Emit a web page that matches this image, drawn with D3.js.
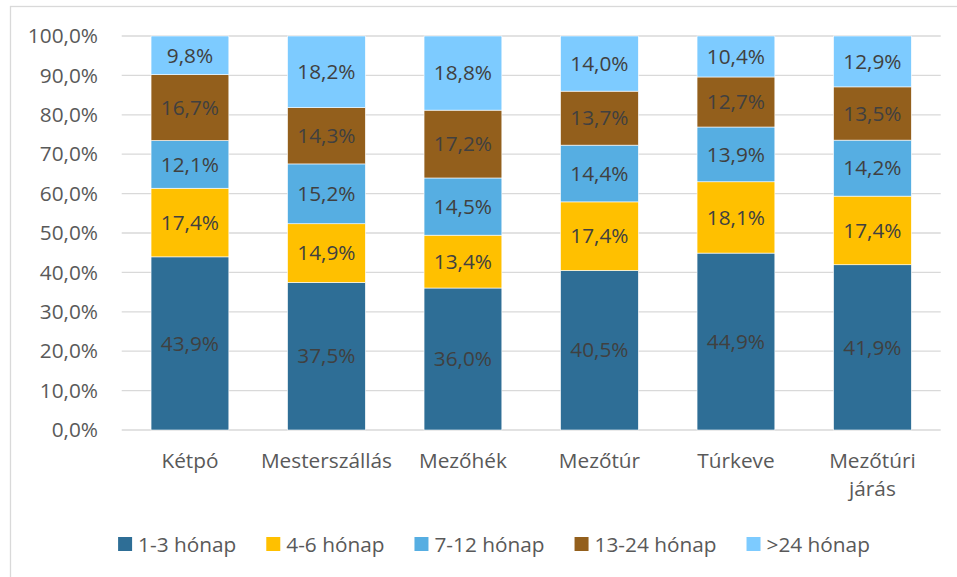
<!DOCTYPE html>
<html>
<head>
<meta charset="utf-8">
<script src="https://cdn.jsdelivr.net/npm/d3@7"></script>
<style>
  body { margin: 0; background: #fff; }
  text { font-family: "Open Sans", "Noto Sans", sans-serif; }
</style>
</head>
<body>
<script>
// categories and series (percent)
var categories = ["Kétpó", "Mesterszállás", "Mezőhék", "Mezőtúr", "Túrkeve", "Mezőtúri járás"];
var seriesNames = ["1-3 hónap", "4-6 hónap", "7-12 hónap", "13-24 hónap", ">24 hónap"];
var m1_3 = [43.9, 37.5, 36.0, 40.5, 44.9, 41.9];
var m4_6 = [17.4, 14.9, 13.4, 17.4, 18.1, 17.4];
var m7_12 = [12.1, 15.2, 14.5, 14.4, 13.9, 14.2];
var m13_24 = [16.7, 14.3, 17.2, 13.7, 12.7, 13.5];
var m24plus = [9.8, 18.2, 18.8, 14.0, 10.4, 12.9];
var yTicks = [0, 10, 20, 30, 40, 50, 60, 70, 80, 90, 100];

var colors = ["#2E6E96", "#FFC000", "#56AEE2", "#935F1C", "#7DCBFF"];

var width = 957, height = 577;
var plotLeft = 121.7, plotRight = 940.7, plotTop = 36, plotBottom = 430;
var fontSize = "20.8px";

var fmt = function (v) { return v.toFixed(1).replace(".", ",") + "%"; };

// build table for stacking
var allSeries = [m1_3, m4_6, m7_12, m13_24, m24plus];
var table = categories.map(function (c, i) {
    var row = { cat: c };
    seriesNames.forEach(function (s, j) { row[s] = allSeries[j][i]; });
    return row;
});

var stack = d3.stack().keys(seriesNames).offset(d3.stackOffsetExpand);
var stacked = stack(table);

var svg = d3.select("body").append("svg")
    .attr("width", width)
    .attr("height", height);

// outer border
svg.append("rect")
    .attr("x", 10.5).attr("y", 6.5)
    .attr("width", 1000).attr("height", 600)
    .attr("fill", "none")
    .attr("stroke", "#d9d9d9")
    .attr("stroke-width", 1.3);

var x = d3.scaleBand()
    .domain(categories)
    .range([plotLeft, plotRight])
    .paddingInner(0.43)
    .paddingOuter(0.215);

var y = d3.scaleLinear()
    .domain([0, 1])
    .range([plotBottom, plotTop]);

// gridlines
svg.append("g").selectAll("line")
    .data(yTicks)
    .enter().append("line")
    .attr("x1", plotLeft).attr("x2", plotRight)
    .attr("y1", function (d) { return y(d / 100); })
    .attr("y2", function (d) { return y(d / 100); })
    .attr("stroke", "#d9d9d9")
    .attr("stroke-width", 1.3);

// y tick labels
svg.append("g").selectAll("text")
    .data(yTicks)
    .enter().append("text")
    .attr("x", 98)
    .attr("y", function (d) { return y(d / 100); })
    .attr("dy", "0.35em")
    .attr("text-anchor", "end")
    .attr("font-size", fontSize)
    .attr("fill", "#595959")
    .text(function (d) { return fmt(d); });

// bars
var layer = svg.append("g").selectAll("g")
    .data(stacked)
    .enter().append("g")
    .attr("fill", function (d, i) { return colors[i]; });

layer.selectAll("rect")
    .data(function (d) { return d; })
    .enter().append("rect")
    .attr("x", function (d) { return x(d.data.cat); })
    .attr("width", x.bandwidth())
    .attr("y", function (d) { return y(d[1]); })
    .attr("height", function (d) { return y(d[0]) - y(d[1]); })
    .attr("stroke", "#ffffff")
    .attr("stroke-width", 0.6);

// data labels
stacked.forEach(function (s) {
    svg.append("g").selectAll("text")
        .data(s)
        .enter().append("text")
        .attr("x", function (d) { return x(d.data.cat) + x.bandwidth() / 2; })
        .attr("y", function (d) { return (y(d[0]) + y(d[1])) / 2; })
        .attr("dy", "0.35em")
        .attr("text-anchor", "middle")
        .attr("font-size", fontSize)
        .attr("fill", "#404040")
        .text(function (d) { return fmt(d.data[s.key]); });
});

// x axis labels
var xl = svg.append("g").selectAll("text")
    .data(categories)
    .enter().append("text")
    .attr("x", function (d) { return x(d) + x.bandwidth() / 2; })
    .attr("y", 468)
    .attr("text-anchor", "middle")
    .attr("font-size", fontSize)
    .attr("fill", "#595959");

xl.each(function (d) {
    var t = d3.select(this);
    var parts = d === "Mezőtúri járás" ? ["Mezőtúri", "járás"] : [d];
    parts.forEach(function (p, i) {
        t.append("tspan")
            .attr("x", x(d) + x.bandwidth() / 2)
            .attr("dy", i === 0 ? 0 : 28)
            .text(p);
    });
});

// legend
var legend = svg.append("g");
var lx = 0;
seriesNames.forEach(function (name, i) {
    var g = legend.append("g").attr("transform", "translate(" + lx + ",0)");
    g.append("rect")
        .attr("x", 0).attr("y", 537)
        .attr("width", 14).attr("height", 14)
        .attr("fill", colors[i]);
    var t = g.append("text")
        .attr("x", 20).attr("y", 552)
        .attr("font-size", fontSize)
        .attr("fill", "#595959")
        .text(name);
    lx += 20 + t.node().getComputedTextLength() + 30;
});
var legendWidth = lx - 30;
legend.attr("transform", "translate(" + (494 - legendWidth / 2) + ",0)");
</script>
</body>
</html>
